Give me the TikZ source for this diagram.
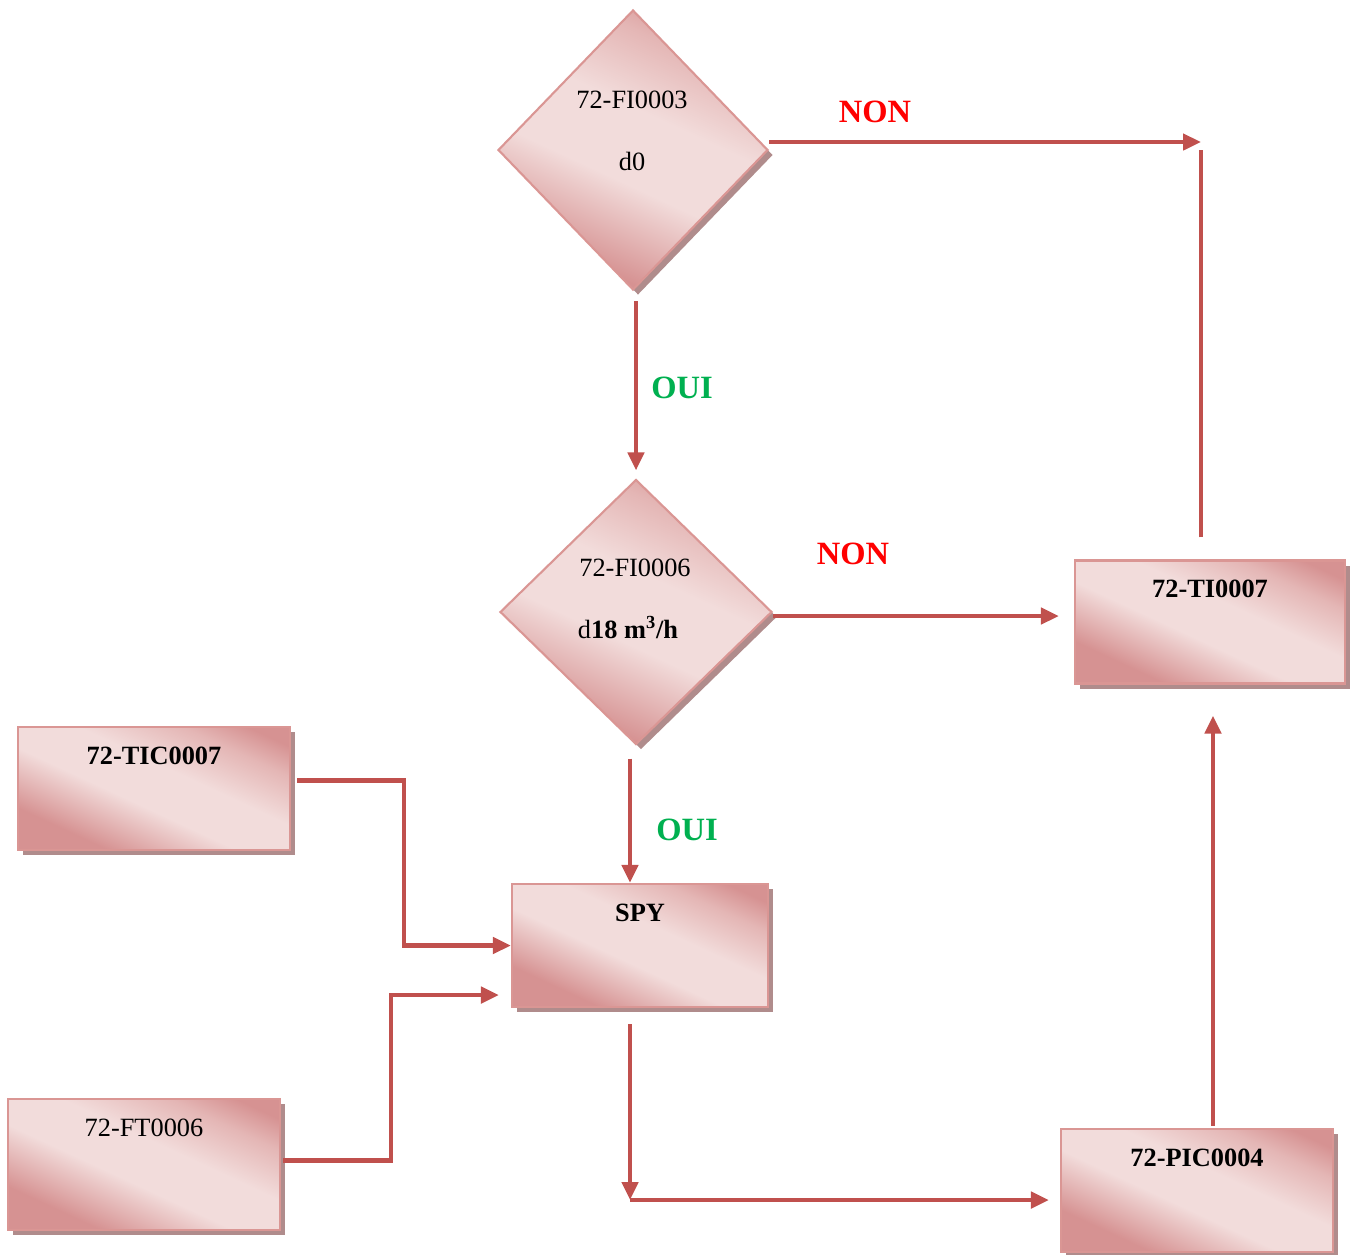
\documentclass[tikz,border=0pt]{standalone}
\usepackage{fontspec}
\setmainfont{Liberation Serif}
\usetikzlibrary{positioning,calc,shapes.geometric,shadows,arrows.meta}
\definecolor{rosedark}{HTML}{D69292}
\definecolor{rosemid}{HTML}{E4B6B5}
\definecolor{roselight}{HTML}{F2DCDB}
\definecolor{roseedge}{HTML}{DA9694}
\definecolor{roseshadow}{HTML}{B08C8C}
\definecolor{arrowred}{HTML}{C0504D}
\definecolor{nonred}{HTML}{FF0000}
\definecolor{ouigreen}{HTML}{00B050}
\newcommand*{\boxfont}{\fontsize{15}{18}\selectfont}
\newcommand*{\tagfont}{\fontsize{18.5}{22}\selectfont}
% light band across the shapes, dark corners
\pgfdeclarehorizontalshading{roseband}{100bp}{color(0bp)=(rosedark); color(28bp)=(rosedark);
  color(44bp)=(roselight); color(57bp)=(roselight); color(70bp)=(rosemid); color(78bp)=(rosedark);
  color(100bp)=(rosedark)}

\begin{document}
\begin{tikzpicture}[x=0.02cm,y=-0.02cm,
  rose/.style={draw=roseedge,line width=1.2pt,shading=roseband,shading angle=65,
    drop shadow={shadow xshift=0.1cm,shadow yshift=-0.1cm,fill=roseshadow,opacity=1}},
  box/.style={rose,rectangle,inner sep=0pt,minimum width=5.44cm,
    text height=0.74cm,text depth=1.72cm,font=\boxfont\bfseries},
  dec/.style={rose,diamond,inner sep=0pt,minimum width=5.4cm,minimum height=5.6cm},
  dtext/.style={anchor=base,font=\boxfont},
  link/.style={draw=arrowred,line width=2.7pt},
  conn/.style={link,-{Triangle[length=0.36cm,width=0.32cm]}},
  non/.style={anchor=base,text=nonred,font=\tagfont\bfseries},
  oui/.style={anchor=base,text=ouigreen,font=\tagfont\bfseries}]
\useasboundingbox (0,0) rectangle (1354,1254);
% Decisions
\node[dec] (fi3) at (633,150) {};
\node[dec,minimum width=5.44cm,minimum height=5.3cm] (fi6) at (636,612) {};
\node[dtext] (fi3a) at (632,108) {72-FI0003};
\node[dtext] (fi3b) at (632,170) {d0};
\node[dtext] (fi6a) at (635,576) {72-FI0006};
\node[dtext] (fi6b) at (628,638) {d\textbf{18 m\textsuperscript{3}/h}};
% Boxes
\node[box,minimum width=5.4cm] (ti7) at (1210,622) {72-TI0007};
\node[box] (tic7) at (154,788.5) {72-TIC0007};
\node[box,minimum width=5.12cm] (spy) at (640,945.5) {SPY};
\node[box,text depth=1.88cm,font=\boxfont] (ft6) at (144,1164.5) {72-FT0006};
\node[box] (pic4) at (1197,1190.5) {72-PIC0004};
% Free ends and bends
\coordinate (k1) at (1201,142);
\coordinate (k2) at (1201,150);
\coordinate (k3) at (1213,900);
\coordinate (j1) at (404,860);
\coordinate (j2) at (391,1080);
\coordinate (j3) at (630,1200);
% NON branch of the first test
\draw[conn] (fi3.east |- k1) -- (k1);
\node[non] (non1) at (875,122) {NON};
\draw[link,shorten <=0.44cm] (ti7.north -| k2) -- (k2);
% OUI branches
\draw[conn,shorten <=0.2cm,shorten >=0.16cm] (fi6.north |- fi3.south) -- (fi6.north);
\node[oui] (oui1) at (682,398) {OUI};
\draw[conn,shorten <=0.26cm] ($(fi6.south)+(-6,0)$) -- ($(spy.north)+(-10,0)$);
\node[oui] (oui2) at (687,840) {OUI};
% NON branch of the second test
\draw[conn,shorten >=0.3cm] ($(fi6.east)+(0,4)$) -- ($(fi6.east -| ti7.west)+(0,4)$);
\node[non] (non2) at (853,564) {NON};
% Inputs of SPY
\draw[conn,shorten <=0.12cm] ($(tic7.east)+(0,-8)$) -| (j1) |- (spy.west);
\draw[conn,shorten <=0.04cm,shorten >=0.24cm] ($(ft6.east)+(0,-4)$) -| (j2) |- ($(spy.south west)+(0,-13)$);
% SPY to PIC and back to TI
\draw[conn,shorten <=0.32cm] ($(spy.south)+(-10,0)$) -- (j3);
\draw[conn,shorten >=0.22cm] (j3) -- (j3 -| pic4.west);
\draw[conn,shorten <=0.04cm,shorten >=0.62cm] (pic4.north -| k3) -- (ti7.south -| k3);
\end{tikzpicture}
\end{document}
